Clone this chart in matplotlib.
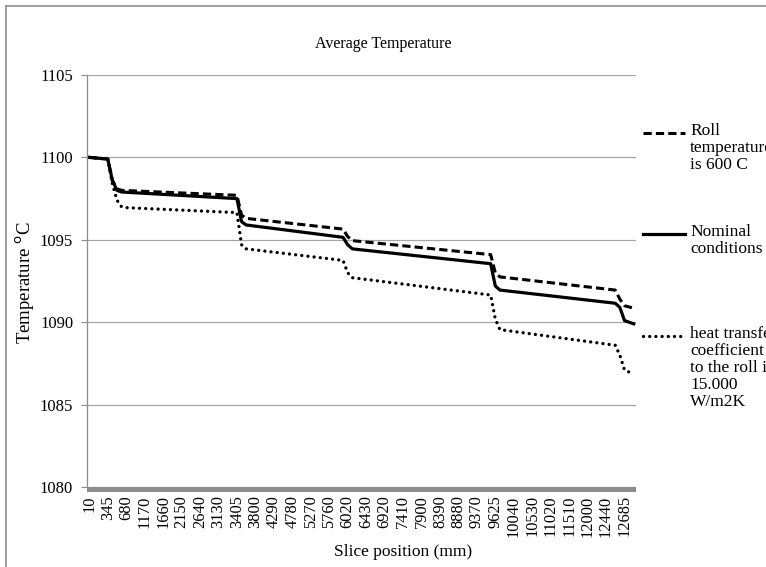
import numpy as np
import matplotlib
matplotlib.use("Agg")
import matplotlib.pyplot as plt
from matplotlib.lines import Line2D
from matplotlib.patches import Rectangle

plt.rcParams['font.family'] = ['Liberation Serif', 'DejaVu Serif']

# x axis: slice positions, one label every 4 slices
slice_labels = ["10", "345", "680", "1170", "1660", "2150", "2640", "3130", "3405", "3800",
                "4290", "4780", "5270", "5760", "6020", "6430", "6920", "7410", "7900", "8390",
                "8880", "9370", "9625", "10040", "10530", "11020", "11510", "12000", "12440", "12685"]
n_slices = 119
label_step = 4

# temperature at slice index (breakpoints of each curve)
nominal_idx = [0, 4, 5, 6, 7, 32, 33, 34, 55, 56, 57, 87, 88, 89, 114, 115, 116, 118]
nominal_temp = [1100.0, 1099.9, 1098.6, 1098.0, 1097.9, 1097.5, 1096.1, 1095.9, 1095.15,
                1094.7, 1094.45, 1093.55, 1092.2, 1091.95, 1091.15, 1090.9, 1090.1, 1089.9]

roll600_idx = [0, 4, 5, 6, 7, 32, 33, 34, 55, 56, 57, 87, 88, 89, 114, 115, 116, 118]
roll600_temp = [1100.0, 1099.9, 1098.6, 1098.1, 1098.0, 1097.7, 1096.5, 1096.3, 1095.65,
                1095.2, 1094.95, 1094.1, 1093.0, 1092.75, 1091.95, 1091.4, 1091.0, 1090.85]

htc_idx = [0, 4, 5, 6, 7, 8, 32, 33, 34, 55, 56, 57, 87, 88, 89, 114, 115, 116, 118]
htc_temp = [1100.0, 1099.9, 1098.4, 1097.4, 1097.0, 1096.95, 1096.65, 1094.7, 1094.45,
            1093.75, 1093.0, 1092.7, 1091.65, 1090.2, 1089.55, 1088.6, 1088.0, 1087.1, 1086.85]

series = [
    (roll600_idx, roll600_temp, 'Roll\ntemperature\nis 600 C',
     dict(lw=2.2, linestyle=(0, (2.7, 1.35)), dash_capstyle='butt')),
    (nominal_idx, nominal_temp, 'Nominal\nconditions',
     dict(lw=2.3, linestyle='-', solid_joinstyle='round')),
    (htc_idx, htc_temp, 'heat transfer\ncoefficient\nto the roll is\n15.000\nW/m2K',
     dict(lw=2.4, linestyle=(0, (0.01, 1.85)), dash_capstyle='round')),
]

fig = plt.figure(figsize=(7.66, 5.67), dpi=100)
ax = fig.add_axes([87/766, 1 - 487/567, 549/766, 412/567])

for xs, ys, name, style in series:
    ax.plot(xs, ys, color='black', label=name, **style)

ax.set_xlim(-0.5, n_slices - 0.5)
ax.set_ylim(1080, 1105)
ax.set_yticks(np.arange(1080, 1106, 5))
ax.set_xticks(np.arange(len(slice_labels)) * label_step)
ax.set_xticklabels(slice_labels, rotation=90, fontsize=11.8)
ax.tick_params(axis='x', length=0, pad=6)
ax.tick_params(axis='y', length=4, width=0.8, color='#8c8c8c', pad=6, labelsize=12)

ax.grid(axis='y', color='#a6a6a6', lw=0.9)
ax.set_axisbelow(True)
for s in ['top', 'right', 'bottom']:
    ax.spines[s].set_visible(False)
ax.spines['left'].set_color('#8c8c8c')
ax.spines['left'].set_linewidth(0.9)

# thick grey base line under the plot area
ax.add_patch(Rectangle((0, -5/412), 1, 5/412, transform=ax.transAxes,
                       facecolor='#8c8c8c', edgecolor='none', clip_on=False))

# titles
fig.text(383/766, 1 - 44/567, 'Average Temperature', fontsize=11.5, ha='center', va='center')
fig.text(403/766, 1 - 552/567, 'Slice position (mm)', fontsize=12.5, ha='center', va='center')
fig.text(25/766, 1 - 283/567, 'Temperature $^{\\mathrm{o}}$C', fontsize=13.5, rotation=90,
         ha='center', va='center')

# legend on the right, each entry beside its own sample line
legend_y = [133, 234, 336]
for (xs, ys, name, style), y in zip(series, legend_y):
    yf = 1 - y / 567
    fig.add_artist(Line2D([643/766, 685/766], [yf, yf], color='black', **style))
    fig.text(690/766, 1 - (y - 10) / 567, name, fontsize=12.5, va='top', ha='left',
             linespacing=1.08)

# chart frame
fig.add_artist(Line2D([6/766, 6/766], [0, 1 - 6/567], color='#8c8c8c', lw=1.2))
fig.add_artist(Line2D([6/766, 1], [1 - 6/567, 1 - 6/567], color='#8c8c8c', lw=1.2))

fig.savefig('out.png', dpi=100)
